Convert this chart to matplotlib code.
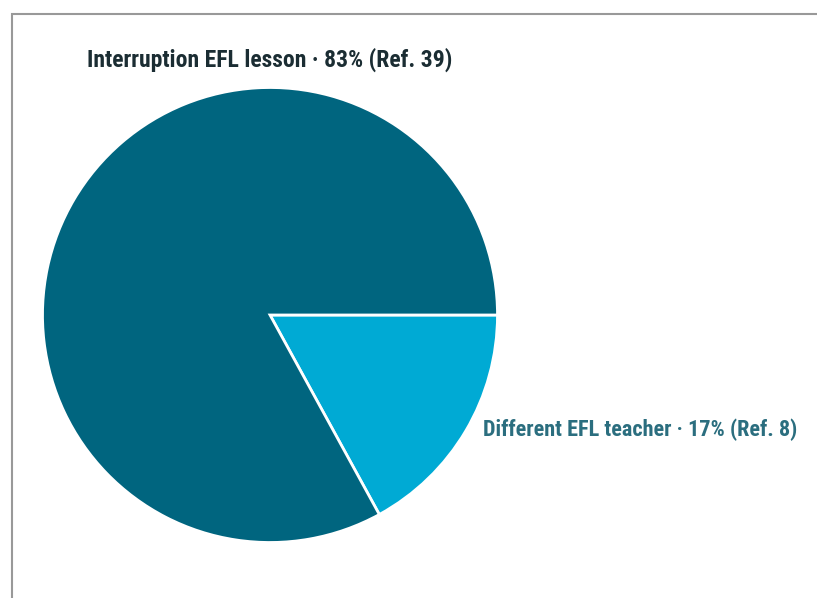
import matplotlib.pyplot as plt
from matplotlib.patches import Rectangle
from matplotlib import font_manager

labels = ["Different EFL teacher", "Interruption EFL lesson"]
refs = [8, 39]
colors = ["#00aad4", "#00657f"]
text_colors = ["#2b6e7f", "#1b2d33"]

names = {f.name for f in font_manager.fontManager.ttflist}
fam = [f for f in ["Liberation Sans Narrow", "Roboto Condensed", "Roboto"] if f in names] + ["DejaVu Sans"]
plt.rcParams['font.family'] = fam

W, H = 817, 598
cx, cy, r = 270, 315, 227.5

fig = plt.figure(figsize=(W / 100, H / 100), dpi=100)
fig.patches.append(Rectangle((12 / W, -0.1), 1.2, 1 - 14 / H + 0.1, transform=fig.transFigure,
                             fill=False, edgecolor="#999999", linewidth=1.5))

ax = fig.add_axes([0, 0, 1, 1])
ax.pie(refs, colors=colors, startangle=0, counterclock=False, radius=1,
       wedgeprops=dict(edgecolor="white", linewidth=2))
ax.set_xlim(-cx / r, (W - cx) / r)
ax.set_ylim(-(H - cy) / r, cy / r)
ax.set_aspect("equal")
ax.axis("off")

total = sum(refs)
pct = [round(v / total * 100) for v in refs]

ax.text(0, (cy - 60) / r, f"{labels[1]} · {pct[1]}% (Ref. {refs[1]})", ha="center", va="center",
        fontsize=17, fontweight="bold", color=text_colors[1])
ax.text((483 - cx) / r, -(430 - cy) / r, f"{labels[0]} · {pct[0]}% (Ref. {refs[0]})", ha="left",
        va="center", fontsize=16, fontweight="bold", color=text_colors[0])

fig.savefig("out.png", dpi=100)
